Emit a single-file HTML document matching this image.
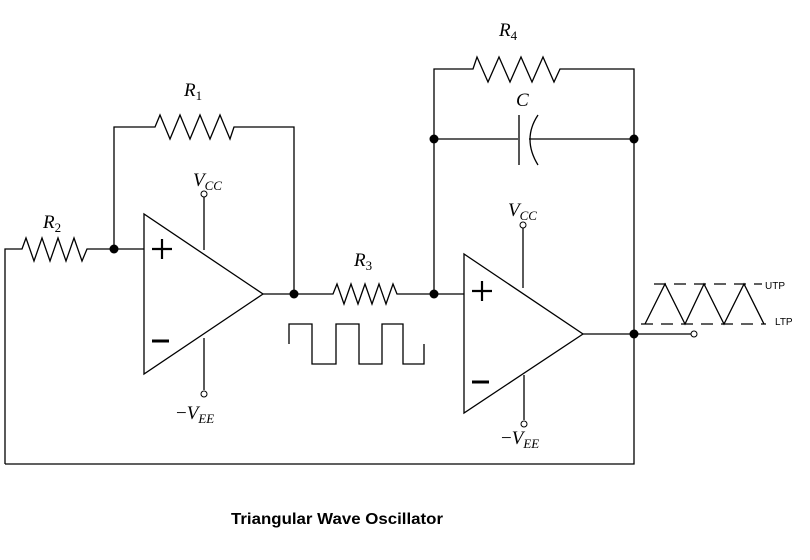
<!DOCTYPE html>
<html><head><style>body{margin:0;background:#fff}svg{display:block}</style></head><body>
<svg width="810" height="560" viewBox="0 0 810 560" xmlns="http://www.w3.org/2000/svg">
<rect width="810" height="560" fill="#fff"/>
<g fill="none" stroke="#000" stroke-width="1.3">
<polygon points="144,214 144,374 263,294"/>
<line x1="204" y1="197" x2="204" y2="250"/>
<line x1="204" y1="338" x2="204" y2="390"/>
<!-- R2 -->
<polyline points="5,464 5,249 22,249 26,238 34,261 42,238 50,261 58,238 66,261 74,238 82,261 87,249 144,249"/>
<!-- R1 loop -->
<polyline points="114,249 114,127 155,127 160,115 170,139 180,115 190,139 200,115 210,139 220,115 230,139 234,127 294,127 294,294"/>
<!-- R3 -->
<polyline points="263,294 333,294 337,284 344,304 351,284 358,304 365,284 372,304 379,284 386,304 393,284 397,294 464,294"/>
<path d="M289,344 V324 H312 V364 H336 V324 H359 V364 H382 V324 H403 V364 H424 V344"/>
<polygon points="464,254 464,413 583,334"/>
<line x1="523" y1="228" x2="523" y2="288"/>
<line x1="524" y1="375" x2="524" y2="420"/>
<!-- R4 -->
<polyline points="434,294 434,69 473,69 477,57 488,82 499,57 510,82 521,57 532,82 543,57 554,82 560,69 634,69 634,464 5,464"/>
<line x1="434" y1="139" x2="519" y2="139"/>
<line x1="519" y1="115" x2="519" y2="165" stroke="#555" stroke-width="2"/>
<path d="M538,115 Q522,139 538,165"/>
<line x1="529" y1="139" x2="634" y2="139"/>
<line x1="583" y1="334" x2="691" y2="334"/>
<polyline points="645,324 665,284 685,324 704,284 724,324 744,284 764,324"/>
<g stroke-dasharray="12,8"><line x1="654" y1="284" x2="762" y2="284"/><line x1="641" y1="324" x2="766" y2="324"/></g>
</g>
<g fill="#000">
<circle cx="114" cy="249" r="4.5"/><circle cx="294" cy="294" r="4.5"/><circle cx="434" cy="294" r="4.5"/>
<circle cx="434" cy="139" r="4.5"/><circle cx="634" cy="139" r="4.5"/><circle cx="634" cy="334" r="4.5"/>
</g>
<g fill="#fff" stroke="#000" stroke-width="1"><circle cx="204" cy="194" r="3"/><circle cx="204" cy="394" r="3"/><circle cx="523" cy="225" r="3"/><circle cx="524" cy="424" r="3"/><circle cx="694" cy="334" r="3"/></g>
<g stroke="#000" stroke-width="2.2"><line x1="152" y1="249" x2="172" y2="249"/><line x1="162" y1="239" x2="162" y2="259"/><line x1="152" y1="341" x2="169" y2="341" stroke-width="3"/>
<line x1="472" y1="291" x2="492" y2="291"/><line x1="482" y1="281" x2="482" y2="301"/><line x1="472" y1="382" x2="489" y2="382" stroke-width="3"/></g>
<g font-family="Liberation Serif, serif" font-style="italic" font-size="19" fill="#000">
<text x="184" y="96">R<tspan font-size="13" dy="4" font-style="normal">1</tspan></text>
<text x="43" y="228">R<tspan font-size="13" dy="4" font-style="normal">2</tspan></text>
<text x="354" y="266">R<tspan font-size="13" dy="4" font-style="normal">3</tspan></text>
<text x="499" y="36">R<tspan font-size="13" dy="4" font-style="normal">4</tspan></text>
<text x="516" y="106">C</text>
<text x="193" y="186">V<tspan font-size="13" dy="4">CC</tspan></text>
<text x="508" y="216">V<tspan font-size="13" dy="4">CC</tspan></text>
<text x="176" y="419"><tspan font-style="normal">−</tspan>V<tspan font-size="13" dy="4">EE</tspan></text>
<text x="501" y="444"><tspan font-style="normal">−</tspan>V<tspan font-size="13" dy="4">EE</tspan></text>
</g>
<g font-family="Liberation Sans, sans-serif" font-size="10" fill="#000"><text x="765" y="289">UTP</text><text x="775" y="325">LTP</text></g>
<text x="337" y="524" text-anchor="middle" font-family="Liberation Sans, sans-serif" font-weight="bold" font-size="16" fill="#000" textLength="212" lengthAdjust="spacingAndGlyphs">Triangular Wave Oscillator</text>
</svg>
</body></html>
